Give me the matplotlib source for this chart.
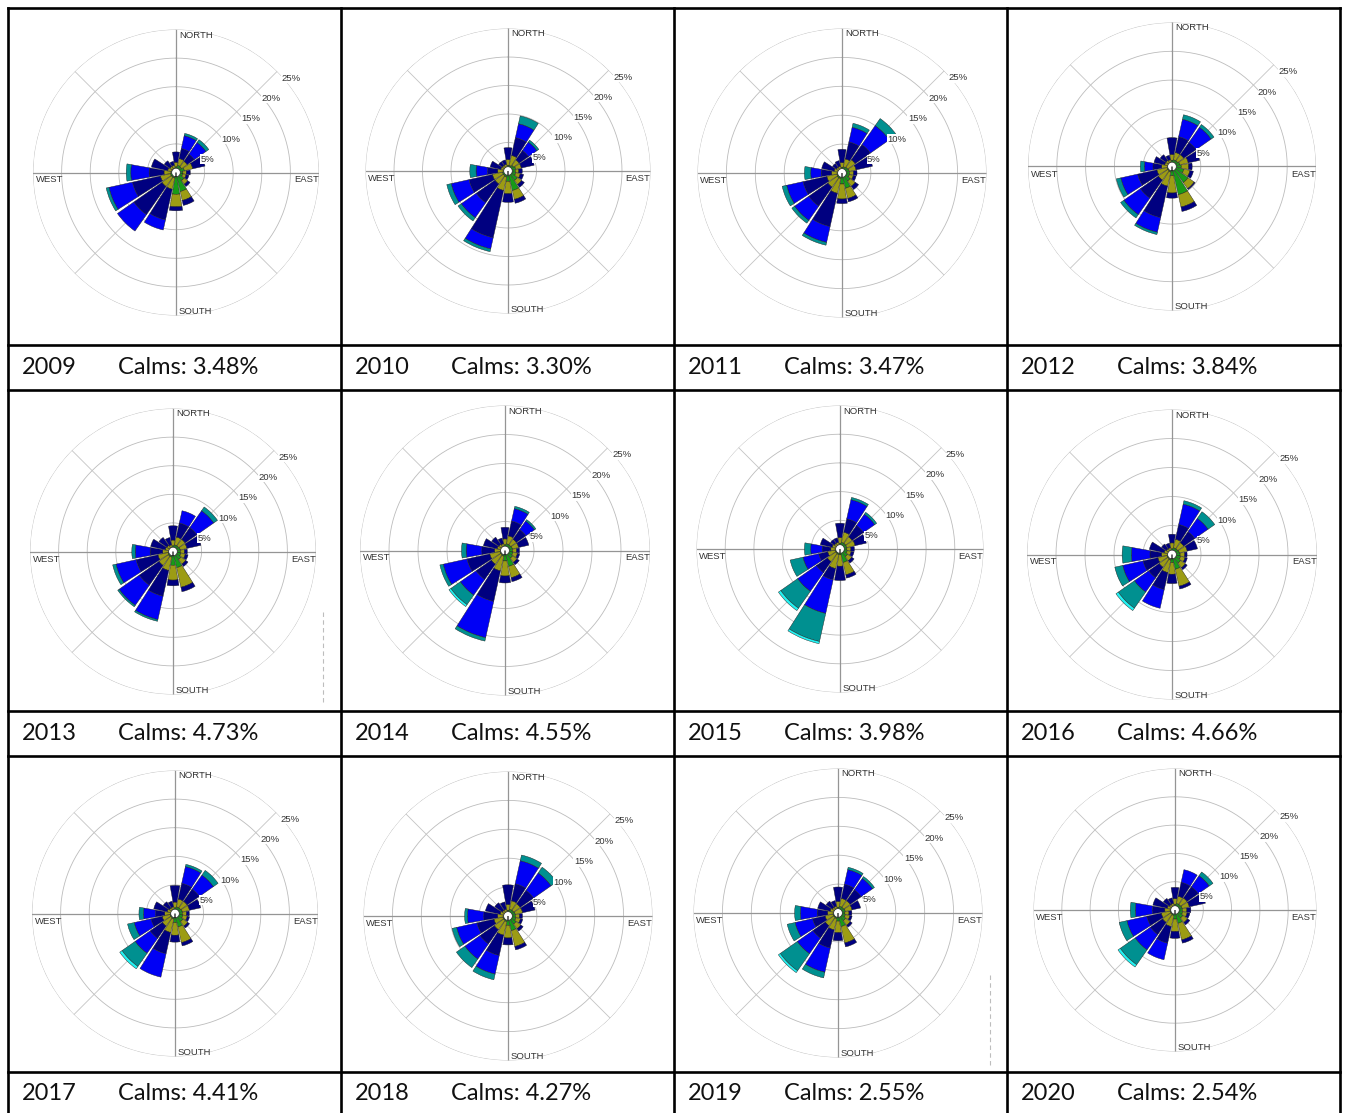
import numpy as np
import matplotlib.pyplot as plt

W, H = 1348, 1113

years = [2009, 2010, 2011, 2012, 2013, 2014, 2015, 2016, 2017, 2018, 2019, 2020]
calms = [3.48, 3.30, 3.47, 3.84, 4.73, 4.55, 3.98, 4.66, 4.41, 4.27, 2.55, 2.54]

directions = ["N", "NNE", "NE", "ENE", "E", "ESE", "SE", "SSE",
              "S", "SSW", "SW", "WSW", "W", "WNW", "NW", "NNW"]

# frequency (%) per direction (rows N..NNW) and speed class (cols, slowest first)
freq_2009 = [
    [0.4, 0.6, 0.8, 1.8, 0.0, 0.0, 0.0],
    [0.5, 0.8, 1.2, 1.8, 2.3, 0.4, 0.0],
    [0.4, 0.8, 1.2, 1.5, 2.5, 0.6, 0.0],
    [0.5, 1.0, 1.5, 2.2, 0.0, 0.0, 0.0],
    [0.4, 0.8, 0.6, 0.7, 0.0, 0.0, 0.0],
    [0.4, 0.8, 0.6, 0.5, 0.0, 0.0, 0.0],
    [0.5, 1.2, 0.8, 0.5, 0.0, 0.0, 0.0],
    [0.5, 2.9, 1.6, 0.9, 0.0, 0.0, 0.0],
    [0.5, 3.3, 2.2, 0.7, 0.0, 0.0, 0.0],
    [0.4, 0.6, 2.0, 5.5, 1.8, 0.0, 0.0],
    [0.4, 0.6, 2.0, 6.0, 3.5, 0.0, 0.0],
    [0.4, 0.6, 1.8, 5.0, 4.2, 0.5, 0.0],
    [0.4, 0.5, 1.2, 2.6, 3.2, 0.8, 0.0],
    [0.3, 0.5, 0.7, 2.9, 0.0, 0.0, 0.0],
    [0.3, 0.5, 0.5, 1.2, 0.0, 0.0, 0.0],
    [0.3, 0.5, 0.5, 0.7, 0.0, 0.0, 0.0],
]
freq_2010 = [
    [0.4, 0.6, 1.0, 2.1, 0.0, 0.0, 0.0],
    [0.4, 0.6, 1.8, 3.2, 2.5, 1.4, 0.0],
    [0.4, 0.8, 1.2, 2.0, 1.8, 0.4, 0.0],
    [0.5, 0.9, 1.0, 2.3, 0.0, 0.0, 0.0],
    [0.4, 0.9, 0.6, 0.6, 0.0, 0.0, 0.0],
    [0.4, 1.0, 0.8, 0.6, 0.0, 0.0, 0.0],
    [0.5, 1.5, 0.9, 0.6, 0.0, 0.0, 0.0],
    [0.5, 3.0, 1.6, 0.7, 0.0, 0.0, 0.0],
    [0.5, 1.3, 2.2, 1.5, 0.0, 0.0, 0.0],
    [0.4, 0.7, 2.4, 8.5, 2.0, 0.5, 0.0],
    [0.4, 0.6, 1.8, 4.0, 3.2, 0.7, 0.0],
    [0.4, 0.6, 1.8, 4.2, 3.2, 0.8, 0.0],
    [0.3, 0.5, 1.0, 1.8, 2.0, 1.1, 0.0],
    [0.3, 0.4, 0.6, 1.9, 0.0, 0.0, 0.0],
    [0.3, 0.4, 0.5, 0.8, 0.0, 0.0, 0.0],
    [0.3, 0.4, 0.5, 0.8, 0.0, 0.0, 0.0],
]
freq_2011 = [
    [0.4, 0.6, 0.8, 2.3, 0.0, 0.0, 0.0],
    [0.4, 0.7, 1.4, 3.0, 2.6, 0.7, 0.0],
    [0.4, 0.8, 1.6, 3.2, 4.0, 1.5, 0.0],
    [0.4, 0.9, 1.2, 2.9, 0.0, 0.0, 0.0],
    [0.4, 0.9, 0.7, 0.6, 0.0, 0.0, 0.0],
    [0.4, 0.9, 0.7, 0.5, 0.0, 0.0, 0.0],
    [0.4, 1.3, 1.1, 0.7, 0.0, 0.0, 0.0],
    [0.4, 2.3, 1.8, 0.6, 0.0, 0.0, 0.0],
    [0.4, 1.5, 2.6, 0.8, 0.0, 0.0, 0.0],
    [0.4, 0.6, 2.6, 5.9, 2.8, 0.5, 0.0],
    [0.4, 0.6, 2.0, 4.0, 3.0, 0.6, 0.0],
    [0.4, 0.5, 1.8, 4.2, 2.9, 0.8, 0.0],
    [0.3, 0.5, 1.0, 1.8, 1.8, 1.1, 0.0],
    [0.3, 0.4, 0.7, 2.2, 0.0, 0.0, 0.0],
    [0.3, 0.4, 0.5, 0.8, 0.0, 0.0, 0.0],
    [0.3, 0.4, 0.5, 1.0, 0.0, 0.0, 0.0],
]
freq_2012 = [
    [0.4, 0.7, 1.0, 2.9, 0.0, 0.0, 0.0],
    [0.4, 0.8, 1.3, 2.8, 3.1, 0.8, 0.0],
    [0.4, 0.8, 1.3, 2.6, 3.2, 0.6, 0.0],
    [0.4, 1.0, 1.5, 2.0, 0.0, 0.0, 0.0],
    [0.4, 1.2, 1.3, 0.6, 0.0, 0.0, 0.0],
    [0.4, 1.7, 1.1, 0.6, 0.0, 0.0, 0.0],
    [0.4, 3.0, 1.3, 0.2, 0.0, 0.0, 0.0],
    [0.5, 4.5, 2.2, 0.8, 0.0, 0.0, 0.0],
    [0.4, 1.2, 3.0, 0.9, 0.0, 0.0, 0.0],
    [0.4, 0.6, 2.5, 5.6, 2.6, 0.4, 0.0],
    [0.4, 0.5, 2.0, 3.8, 3.5, 0.7, 0.0],
    [0.4, 0.5, 1.8, 3.4, 3.0, 0.8, 0.0],
    [0.3, 0.5, 1.0, 1.5, 1.5, 0.7, 0.0],
    [0.3, 0.4, 0.6, 1.9, 0.0, 0.0, 0.0],
    [0.3, 0.4, 0.6, 1.2, 0.0, 0.0, 0.0],
    [0.3, 0.4, 0.5, 0.8, 0.0, 0.0, 0.0],
]
freq_2013 = [
    [0.4, 0.6, 1.0, 2.5, 0.0, 0.0, 0.0],
    [0.4, 0.8, 1.4, 2.5, 2.2, 0.0, 0.0],
    [0.4, 0.8, 1.4, 2.5, 3.6, 0.8, 0.0],
    [0.4, 0.9, 1.2, 2.5, 0.0, 0.0, 0.0],
    [0.4, 0.9, 0.7, 0.5, 0.0, 0.0, 0.0],
    [0.4, 1.0, 0.8, 0.5, 0.0, 0.0, 0.0],
    [0.4, 1.3, 1.0, 0.5, 0.0, 0.0, 0.0],
    [0.4, 2.5, 3.5, 0.8, 0.0, 0.0, 0.0],
    [0.4, 2.0, 2.6, 1.0, 0.0, 0.0, 0.0],
    [0.4, 0.6, 2.4, 4.6, 4.2, 0.3, 0.0],
    [0.4, 0.6, 2.0, 4.2, 4.3, 0.3, 0.0],
    [0.4, 0.5, 1.8, 3.9, 3.6, 0.6, 0.0],
    [0.3, 0.5, 1.0, 2.2, 2.6, 0.6, 0.0],
    [0.3, 0.4, 0.7, 2.6, 0.0, 0.0, 0.0],
    [0.3, 0.4, 0.6, 1.7, 0.0, 0.0, 0.0],
    [0.3, 0.4, 0.5, 1.3, 0.0, 0.0, 0.0],
]
freq_2014 = [
    [0.4, 0.6, 1.0, 2.0, 0.0, 0.0, 0.0],
    [0.4, 0.8, 1.4, 2.6, 2.2, 0.4, 0.0],
    [0.4, 0.8, 1.2, 2.0, 1.8, 0.3, 0.0],
    [0.4, 0.9, 1.1, 1.8, 0.0, 0.0, 0.0],
    [0.4, 0.9, 0.7, 0.5, 0.0, 0.0, 0.0],
    [0.4, 1.0, 0.8, 0.4, 0.0, 0.0, 0.0],
    [0.4, 1.2, 0.9, 0.5, 0.0, 0.0, 0.0],
    [0.4, 2.4, 2.0, 0.7, 0.0, 0.0, 0.0],
    [0.4, 1.4, 2.6, 1.2, 0.0, 0.0, 0.0],
    [0.4, 0.6, 2.6, 5.4, 6.4, 0.6, 0.0],
    [0.4, 0.5, 2.0, 3.2, 3.3, 2.0, 0.4],
    [0.4, 0.5, 1.8, 4.0, 4.2, 0.6, 0.0],
    [0.3, 0.5, 1.0, 2.2, 2.7, 0.8, 0.0],
    [0.3, 0.4, 0.7, 2.4, 0.0, 0.0, 0.0],
    [0.3, 0.4, 0.6, 1.5, 0.0, 0.0, 0.0],
    [0.3, 0.4, 0.5, 1.0, 0.0, 0.0, 0.0],
]
freq_2015 = [
    [0.4, 0.6, 1.0, 2.5, 0.0, 0.0, 0.0],
    [0.4, 0.8, 1.8, 2.4, 3.4, 0.4, 0.0],
    [0.4, 0.8, 1.4, 2.4, 2.4, 0.4, 0.0],
    [0.4, 0.8, 1.5, 2.0, 0.0, 0.0, 0.0],
    [0.4, 0.8, 0.7, 0.6, 0.0, 0.0, 0.0],
    [0.4, 0.9, 0.7, 0.5, 0.0, 0.0, 0.0],
    [0.4, 1.2, 0.9, 0.5, 0.0, 0.0, 0.0],
    [0.4, 2.0, 2.2, 0.6, 0.0, 0.0, 0.0],
    [0.4, 0.6, 2.0, 2.5, 0.0, 0.0, 0.0],
    [0.4, 0.6, 2.5, 2.0, 6.0, 5.0, 0.4],
    [0.4, 0.5, 1.8, 2.3, 4.0, 3.6, 0.5],
    [0.4, 0.5, 1.3, 1.6, 2.8, 2.3, 0.0],
    [0.3, 0.4, 0.9, 1.5, 2.0, 1.1, 0.0],
    [0.3, 0.4, 0.7, 2.1, 0.0, 0.0, 0.0],
    [0.3, 0.4, 0.5, 0.8, 0.0, 0.0, 0.0],
    [0.3, 0.4, 0.5, 0.8, 0.0, 0.0, 0.0],
]
freq_2016 = [
    [0.4, 0.6, 1.0, 1.5, 0.0, 0.0, 0.0],
    [0.4, 0.8, 1.5, 2.6, 3.6, 0.6, 0.0],
    [0.4, 0.8, 1.3, 2.3, 2.8, 1.4, 0.0],
    [0.4, 0.9, 1.4, 1.8, 0.0, 0.0, 0.0],
    [0.4, 1.0, 0.8, 0.4, 0.0, 0.0, 0.0],
    [0.4, 1.1, 0.8, 0.4, 0.0, 0.0, 0.0],
    [0.4, 1.4, 1.0, 0.4, 0.0, 0.0, 0.0],
    [0.4, 2.2, 3.0, 0.5, 0.0, 0.0, 0.0],
    [0.4, 1.0, 2.0, 1.6, 0.0, 0.0, 0.0],
    [0.4, 0.6, 2.2, 3.0, 3.3, 0.0, 0.0],
    [0.4, 0.5, 1.8, 2.2, 3.0, 3.4, 0.5],
    [0.4, 0.5, 1.6, 2.6, 3.6, 1.4, 0.0],
    [0.3, 0.5, 1.0, 2.0, 3.2, 1.6, 0.0],
    [0.3, 0.4, 0.7, 2.6, 0.0, 0.0, 0.0],
    [0.3, 0.4, 0.5, 1.0, 0.0, 0.0, 0.0],
    [0.3, 0.4, 0.5, 0.8, 0.0, 0.0, 0.0],
]
freq_2017 = [
    [0.4, 0.6, 1.0, 2.9, 0.0, 0.0, 0.0],
    [0.4, 0.8, 1.4, 2.8, 3.0, 0.4, 0.0],
    [0.4, 0.8, 1.4, 2.6, 3.0, 1.0, 0.0],
    [0.4, 0.9, 1.3, 2.0, 0.0, 0.0, 0.0],
    [0.4, 0.9, 0.7, 0.5, 0.0, 0.0, 0.0],
    [0.4, 1.0, 0.8, 0.4, 0.0, 0.0, 0.0],
    [0.4, 1.3, 1.0, 0.4, 0.0, 0.0, 0.0],
    [0.4, 2.0, 2.8, 0.6, 0.0, 0.0, 0.0],
    [0.4, 1.2, 2.2, 1.2, 0.0, 0.0, 0.0],
    [0.4, 0.6, 2.4, 3.8, 4.2, 0.0, 0.0],
    [0.4, 0.5, 1.8, 2.6, 3.2, 2.8, 0.5],
    [0.4, 0.5, 1.4, 2.0, 3.0, 1.2, 0.0],
    [0.3, 0.5, 1.0, 1.6, 2.1, 0.8, 0.0],
    [0.3, 0.4, 0.7, 2.4, 0.0, 0.0, 0.0],
    [0.3, 0.4, 0.5, 1.3, 0.0, 0.0, 0.0],
    [0.3, 0.4, 0.5, 1.0, 0.0, 0.0, 0.0],
]
freq_2018 = [
    [0.4, 0.6, 1.0, 3.4, 0.0, 0.0, 0.0],
    [0.4, 0.8, 1.5, 3.0, 4.1, 1.0, 0.0],
    [0.4, 0.8, 1.4, 2.8, 3.7, 1.2, 0.0],
    [0.4, 0.9, 1.3, 2.2, 0.0, 0.0, 0.0],
    [0.4, 0.9, 0.7, 0.5, 0.0, 0.0, 0.0],
    [0.4, 1.0, 0.8, 0.4, 0.0, 0.0, 0.0],
    [0.4, 1.3, 1.0, 0.5, 0.0, 0.0, 0.0],
    [0.4, 2.2, 2.8, 0.6, 0.0, 0.0, 0.0],
    [0.4, 1.2, 2.2, 1.2, 0.0, 0.0, 0.0],
    [0.4, 0.6, 2.4, 3.6, 3.3, 1.0, 0.0],
    [0.4, 0.5, 2.0, 3.0, 3.2, 1.8, 0.0],
    [0.4, 0.5, 1.6, 3.0, 3.6, 0.8, 0.0],
    [0.3, 0.5, 1.0, 2.4, 2.8, 0.5, 0.0],
    [0.3, 0.4, 0.7, 2.6, 0.0, 0.0, 0.0],
    [0.3, 0.4, 0.5, 1.6, 0.0, 0.0, 0.0],
    [0.3, 0.4, 0.5, 1.3, 0.0, 0.0, 0.0],
]
freq_2019 = [
    [0.4, 0.6, 1.0, 2.5, 0.0, 0.0, 0.0],
    [0.4, 0.8, 1.4, 2.5, 2.6, 0.4, 0.0],
    [0.4, 0.8, 1.4, 2.3, 2.4, 0.4, 0.0],
    [0.4, 0.9, 1.2, 1.5, 0.0, 0.0, 0.0],
    [0.4, 0.8, 0.7, 0.5, 0.0, 0.0, 0.0],
    [0.4, 0.9, 0.8, 0.4, 0.0, 0.0, 0.0],
    [0.4, 1.2, 1.0, 0.4, 0.0, 0.0, 0.0],
    [0.4, 2.0, 2.9, 0.7, 0.0, 0.0, 0.0],
    [0.4, 1.0, 2.0, 1.4, 0.0, 0.0, 0.0],
    [0.4, 0.6, 2.0, 3.2, 4.3, 1.0, 0.0],
    [0.4, 0.5, 1.8, 2.6, 3.3, 3.6, 0.4],
    [0.4, 0.5, 1.4, 2.2, 3.1, 1.4, 0.0],
    [0.3, 0.5, 1.0, 1.8, 2.9, 1.0, 0.0],
    [0.3, 0.4, 0.7, 2.2, 0.0, 0.0, 0.0],
    [0.3, 0.4, 0.5, 1.3, 0.0, 0.0, 0.0],
    [0.3, 0.4, 0.5, 1.0, 0.0, 0.0, 0.0],
]
freq_2020 = [
    [0.4, 0.6, 1.0, 2.0, 0.0, 0.0, 0.0],
    [0.4, 0.8, 1.3, 2.5, 2.3, 0.0, 0.0],
    [0.4, 0.8, 1.4, 2.4, 2.4, 0.8, 0.0],
    [0.4, 0.9, 1.3, 2.9, 0.0, 0.0, 0.0],
    [0.4, 0.9, 0.8, 0.7, 0.0, 0.0, 0.0],
    [0.4, 1.0, 0.8, 0.5, 0.0, 0.0, 0.0],
    [0.4, 1.3, 1.0, 0.5, 0.0, 0.0, 0.0],
    [0.4, 2.0, 3.0, 0.6, 0.0, 0.0, 0.0],
    [0.4, 1.2, 2.2, 1.2, 0.0, 0.0, 0.0],
    [0.4, 0.6, 2.0, 3.0, 3.0, 0.0, 0.0],
    [0.4, 0.5, 1.8, 2.6, 3.3, 3.2, 0.5],
    [0.4, 0.5, 1.6, 2.6, 3.6, 1.4, 0.0],
    [0.3, 0.5, 1.0, 2.2, 3.0, 0.9, 0.0],
    [0.3, 0.4, 0.7, 2.6, 0.0, 0.0, 0.0],
    [0.3, 0.4, 0.5, 1.3, 0.0, 0.0, 0.0],
    [0.3, 0.4, 0.5, 1.0, 0.0, 0.0, 0.0],
]

roses = [freq_2009, freq_2010, freq_2011, freq_2012, freq_2013, freq_2014,
         freq_2015, freq_2016, freq_2017, freq_2018, freq_2019, freq_2020]

ring_levels = [5, 10, 15, 20, 25]

# speed class colours, slowest first
class_colors = ["#3ccc3c", "#179b17", "#9c9c14", "#000080",
                "#0000f5", "#009090", "#22f2f2"]

# table geometry (pixels)
col_x = [8, 341, 674, 1007, 1340]
row_lines = [8, 345, 390, 711, 756, 1072]
label_y = [368, 734, 1094]

# rose centre and outer radius (pixels) for each cell
rose_cx = [176, 508, 842, 1172, 173, 505, 840, 1172, 175, 508, 838, 1175]
rose_cy = [172.5, 171, 173, 166.5, 551.5, 550.5, 549, 554.5, 913.5, 916, 913, 910]
rose_r = [143, 142.5, 144.5, 144, 143, 145, 143.5, 145, 143, 144.5, 144.5, 141.5]


def fx(x):
    return x / W


def fy(y):
    return 1 - y / H


fig = plt.figure(figsize=(W / 100, H / 100), dpi=100)
bg = fig.add_axes([0, 0, 1, 1])
bg.set_xlim(0, W)
bg.set_ylim(H, 0)
bg.axis("off")

# table borders
for y in row_lines:
    bg.plot([col_x[0], col_x[-1]], [y, y], color="black", lw=1.9,
            solid_capstyle="projecting")
for x in col_x:
    bg.plot([x, x], [row_lines[0], H + 5], color="black", lw=1.9,
            solid_capstyle="projecting")

# stray dashed marks inside two cells
bg.plot([323, 323], [612, 702], color="#bdbdbd", lw=0.8, ls=(0, (4, 3)))
bg.plot([990, 990], [975, 1066], color="#bdbdbd", lw=0.8, ls=(0, (4, 3)))

theta = np.radians(np.arange(16) * 22.5)
width = np.radians(20)
circle_t = np.linspace(0, 2 * np.pi, 361)
label_font = dict(family="Liberation Sans", fontsize=6.8, color="#333333")

for i, year in enumerate(years):
    row, col = divmod(i, 4)
    cx, cy, R = rose_cx[i], rose_cy[i], rose_r[i]
    ax = fig.add_axes([fx(cx - R), fy(cy + R), 2 * R / W, 2 * R / H],
                      projection="polar")
    ax.set_theta_zero_location("N")
    ax.set_theta_direction(-1)
    ax.set_axis_off()

    # grid rings and spokes
    for lev in ring_levels:
        ax.plot(circle_t, np.full_like(circle_t, lev), color="#bcbcbc",
                lw=0.6, zorder=0)
    for k in range(8):
        ang = np.radians(k * 45)
        main = k % 2 == 0
        ax.plot([ang, ang], [0, 25], color="#959595" if main else "#c4c4c4",
                lw=0.9 if main else 0.6, zorder=0)

    data = np.array(roses[i])
    bottom = np.zeros(16)
    for c in range(data.shape[1]):
        vals = data[:, c]
        mask = vals > 0
        ax.bar(theta[mask], vals[mask], width=width, bottom=bottom[mask],
               color=class_colors[c], edgecolor="#1c1c1c", linewidth=0.3,
               zorder=2)
        bottom += vals
    ax.bar([0], [0.75], width=2 * np.pi, bottom=0, color="white",
           edgecolor="#2a2a2a", linewidth=0.5, zorder=3)
    ax.set_ylim(0, 25)

    # compass words
    fig.text(fx(cx + 3), fy(cy - R + 5.5), "NORTH", ha="left", va="center", **label_font)
    fig.text(fx(cx + 3), fy(cy + R - 4), "SOUTH", ha="left", va="center", **label_font)
    fig.text(fx(cx - R + 2.5), fy(cy + 7.5), "WEST", ha="left", va="center", **label_font)
    fig.text(fx(cx + R), fy(cy + 7.5), "EAST", ha="right", va="center", **label_font)

    # ring percentages along the NE diagonal
    for lev in ring_levels:
        rp = R * lev / 25 * np.cos(np.pi / 4)
        fig.text(fx(cx + rp + 4.5), fy(cy - rp + 7), f"{lev}%", ha="left",
                 va="center",
                 bbox=dict(facecolor="white", edgecolor="none", pad=0.3),
                 **label_font)

    # caption cell
    x0 = col_x[col]
    bg.text(x0 + 14, label_y[row], str(year), ha="left", va="center",
            family="Lato", fontsize=17, color="#111111")
    bg.text(x0 + 110, label_y[row], f"Calms: {calms[i]:.2f}%", ha="left",
            va="center", family="Lato", fontsize=17, color="#111111")

fig.savefig("out.png", dpi=100)
